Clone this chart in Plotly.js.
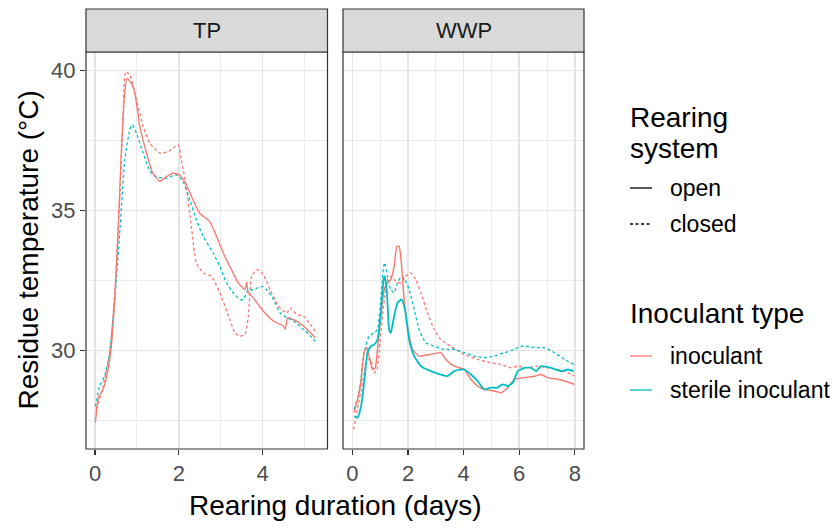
<!DOCTYPE html>
<html>
<head>
<meta charset="utf-8">
<script src="https://cdn.plot.ly/plotly-3.0.1.min.js"></script>
<style>html,body{margin:0;padding:0;background:#fff;}#chart{width:840px;height:529px;}</style>
</head>
<body>
<div id="chart"></div>
<script>
// ---------- Data ----------
const panels = ["TP", "WWP"];
const xTicksTP = [0, 2, 4];
const xTicksWWP = [0, 2, 4, 6, 8];
const yTicks = [30, 35, 40];
const systemLabels = ["open", "closed"];
const inoculantLabels = ["inoculant", "sterile inoculant"];

// TP panel
const tpInocOpenX = [0.01,0.08,0.19,0.31,0.39,0.47,0.55,0.63,0.71,0.76,0.87,0.95,1.07,1.23,1.38,1.55,1.7,1.86,2.02,2.18,2.34,2.5,2.74,2.9,3.06,3.22,3.42,3.58,3.62,3.66,3.78,4.02,4.26,4.5,4.54,4.6,4.74,4.98,5.26];
const tpInocOpenY = [27.42,28.31,28.6,29.3,30.15,31.8,34.2,37.17,39.2,39.72,39.54,39.2,38.0,37.05,36.33,36.04,36.2,36.33,36.27,35.92,35.38,34.9,34.6,34.08,33.48,33.0,32.41,32.17,32.44,32.06,31.88,31.4,31.05,30.87,30.75,31.17,31.1,30.87,30.45];

const tpInocClosedX = [0.03,0.19,0.35,0.47,0.59,0.67,0.73,0.83,0.99,1.15,1.31,1.55,1.75,1.91,1.99,2.06,2.18,2.3,2.42,2.58,2.78,2.98,3.22,3.34,3.46,3.58,3.66,3.74,3.86,4.02,4.18,4.38,4.58,4.66,4.82,4.98,5.14,5.26];
const tpInocClosedY = [27.9,28.7,29.9,32.05,35.4,38.35,39.96,39.84,38.95,38.0,37.4,37.05,37.1,37.28,37.34,36.8,35.86,34.43,33.13,32.77,32.65,32.06,31.1,30.63,30.51,30.57,31.22,32.65,32.89,32.71,32.17,31.58,31.34,31.52,31.28,31.22,30.93,30.69];

const tpSterClosedX = [0.01,0.11,0.23,0.35,0.47,0.59,0.71,0.83,0.89,0.99,1.15,1.31,1.47,1.7,1.94,2.1,2.26,2.42,2.58,2.82,2.98,3.14,3.3,3.46,3.54,3.66,3.78,3.98,4.1,4.26,4.42,4.58,4.74,4.98,5.26];
const tpSterClosedY = [28.0,28.73,29.08,29.92,31.8,34.2,36.8,37.88,38.06,37.76,37.05,36.4,36.2,36.15,36.27,36.04,35.38,34.67,34.08,33.48,33.0,32.41,32.06,31.82,31.82,32.17,32.17,32.29,32.17,31.82,31.34,31.17,31.05,30.75,30.33];

// WWP panel
const wwpInocOpenX = [0.06,0.18,0.3,0.42,0.52,0.6,0.72,0.82,0.9,1.02,1.14,1.26,1.38,1.5,1.6,1.68,1.77,1.86,1.98,2.16,2.4,2.82,3.18,3.36,3.66,4.02,4.26,4.5,4.74,5.1,5.34,5.59,5.83,6.19,6.55,6.79,7.03,7.39,7.63,7.99];
const wwpInocOpenY = [27.78,28.25,28.85,29.92,30.1,29.8,29.32,29.38,30.04,31.22,32.17,32.41,32.53,33.0,33.72,33.72,33.0,31.82,30.87,30.04,29.8,29.86,29.92,29.68,29.44,29.32,28.97,28.73,28.61,28.55,28.49,28.67,28.97,29.03,29.08,29.14,29.03,28.97,28.91,28.79];

const wwpSterOpenX = [0.06,0.18,0.3,0.42,0.54,0.66,0.78,0.9,1.02,1.12,1.16,1.24,1.32,1.38,1.5,1.62,1.77,1.89,2.04,2.22,2.46,2.82,3.18,3.42,3.66,4.02,4.26,4.5,4.74,4.98,5.22,5.4,5.59,5.77,5.95,6.19,6.43,6.61,6.79,7.15,7.51,7.75,7.96];
const wwpSterOpenY = [27.66,27.6,27.96,28.85,29.92,30.15,30.21,30.39,31.34,32.53,32.65,32.06,30.75,30.63,31.22,31.7,31.82,31.46,30.39,29.8,29.44,29.26,29.14,29.08,29.26,29.32,29.14,28.91,28.61,28.67,28.67,28.79,28.73,28.85,29.26,29.38,29.38,29.26,29.44,29.38,29.26,29.32,29.26];

const wwpInocClosedX = [0.04,0.18,0.36,0.54,0.66,0.78,0.88,1.0,1.12,1.26,1.38,1.56,1.74,1.92,2.1,2.28,2.46,2.7,2.94,3.18,3.54,4.02,4.5,4.98,5.34,5.71,5.95,6.31,6.67,7.03,7.39,7.75,7.99];
const wwpInocClosedY = [27.18,27.9,28.85,29.68,29.68,29.2,29.32,30.39,31.58,32.53,32.65,32.47,32.41,32.65,32.77,32.53,32.06,31.34,30.75,30.39,30.15,29.86,29.68,29.56,29.5,29.38,29.44,29.38,29.44,29.38,29.32,29.2,29.08];

const wwpSterClosedX = [0.06,0.24,0.42,0.6,0.78,0.9,1.02,1.12,1.16,1.26,1.38,1.5,1.62,1.77,1.89,2.04,2.22,2.4,2.64,2.94,3.3,3.66,4.02,4.38,4.74,5.1,5.47,5.83,6.07,6.25,6.55,6.91,7.27,7.63,7.96];
const wwpSterClosedY = [27.9,28.49,29.92,30.51,30.63,30.75,31.82,33.0,33.13,32.65,32.17,32.06,32.41,32.65,32.53,32.17,31.46,30.75,30.27,30.15,30.04,30.04,29.92,29.8,29.74,29.8,29.92,30.04,30.15,30.15,30.1,30.1,29.92,29.68,29.5];

// ---------- Styling ----------
const RED = "#F8766D", CYAN = "#00BFC4";
const DOT = "3px,2.5px";
const W = 840, H = 529;
const FONT = "Liberation Sans, Arial, sans-serif";
const px = v => v / W, py = v => 1 - v / H;

function tr(x, y, color, dash, xa, ya, width) {
  return {x: x, y: y, type: "scatter", mode: "lines", xaxis: xa, yaxis: ya,
    line: {color: color, dash: dash, width: width || 1.3, shape: "spline", smoothing: 0.5},
    showlegend: false, hoverinfo: "skip"};
}

const data = [
  tr(tpInocClosedX, tpInocClosedY, RED, DOT, "x", "y"),
  tr(tpSterClosedX, tpSterClosedY, CYAN, DOT, "x", "y"),
  tr(tpInocOpenX, tpInocOpenY, RED, "solid", "x", "y"),
  tr(wwpInocClosedX, wwpInocClosedY, RED, DOT, "x2", "y2"),
  tr(wwpSterClosedX, wwpSterClosedY, CYAN, DOT, "x2", "y2"),
  tr(wwpInocOpenX, wwpInocOpenY, RED, "solid", "x2", "y2", 1.4),
  tr(wwpSterOpenX, wwpSterOpenY, CYAN, "solid", "x2", "y2", 1.8)
];

const P1 = [86, 327.5], P2 = [343, 584], PT = 52, PB = 449, ST = 9;
const gridC = "#E4E4E4";
function xax(dom, range, ticks) {
  return {domain: [px(dom[0]), px(dom[1])], range: range, tickvals: ticks, ticktext: ticks.map(String),
    showgrid: true, gridcolor: gridC, gridwidth: 1.7, zeroline: false,
    minor: {dtick: 1, tick0: 0, showgrid: true, gridcolor: "#ECECEC", gridwidth: 1},
    showline: false,
    ticks: "outside", ticklen: 5, tickwidth: 1.2, tickcolor: "#333333",
    tickfont: {family: FONT, size: 22, color: "#4D4D4D"}, fixedrange: true};
}
function yax(show) {
  return {domain: [py(PB), py(PT)], range: [26.48, 40.66], tickvals: yTicks, ticktext: yTicks.map(String),
    showgrid: true, gridcolor: gridC, gridwidth: 1.7, zeroline: false,
    minor: {dtick: 2.5, tick0: 0, showgrid: true, gridcolor: "#ECECEC", gridwidth: 1},
    showline: false,
    ticks: show ? "outside" : "", ticklen: 5, tickwidth: 1.2, tickcolor: "#333333",
    showticklabels: show,
    tickfont: {family: FONT, size: 22, color: "#4D4D4D"}, fixedrange: true};
}

const shapes = [];
const annotations = [];
[[P1, panels[0]], [P2, panels[1]]].forEach(([p, label]) => {
  // panel border
  shapes.push({type: "rect", xref: "paper", yref: "paper", x0: px(p[0]), x1: px(p[1]), y0: py(PB), y1: py(PT),
    fillcolor: "rgba(0,0,0,0)", line: {color: "#333333", width: 1.2}, layer: "above"});
  // strip
  shapes.push({type: "rect", xref: "paper", yref: "paper", x0: px(p[0]), x1: px(p[1]), y0: py(PT), y1: py(ST),
    fillcolor: "#D9D9D9", line: {color: "#333333", width: 1.2}, layer: "above"});
  annotations.push({xref: "paper", yref: "paper", x: px((p[0] + p[1]) / 2), y: py((PT + ST) / 2),
    text: label, showarrow: false, xanchor: "center", yanchor: "middle",
    font: {family: FONT, size: 22, color: "#1A1A1A"}});
});

// axis titles
annotations.push({xref: "paper", yref: "paper", x: px((P1[0] + P2[1]) / 2), y: py(505), text: "Rearing duration (days)",
  showarrow: false, xanchor: "center", yanchor: "middle", font: {family: FONT, size: 28, color: "#000"}});
annotations.push({xref: "paper", yref: "paper", x: px(28), y: py((PT + PB) / 2), text: "Residue temperature (°C)",
  showarrow: false, textangle: -90, xanchor: "center", yanchor: "middle", font: {family: FONT, size: 28, color: "#000"}});

// legends
const LX = 628, KX0 = 630, KX1 = 652, TX = 668;
function legTitle(t, y) {
  annotations.push({xref: "paper", yref: "paper", x: px(LX), y: py(y), text: t, showarrow: false,
    xanchor: "left", yanchor: "middle", font: {family: FONT, size: 28, color: "#000"}});
}
function legItem(t, y, color, dash) {
  shapes.push({type: "line", xref: "paper", yref: "paper", x0: px(KX0), x1: px(KX1), y0: py(y), y1: py(y),
    line: {color: color, width: 1.3, dash: dash}});
  annotations.push({xref: "paper", yref: "paper", x: px(TX), y: py(y), text: t, showarrow: false,
    xanchor: "left", yanchor: "middle", font: {family: FONT, size: 23, color: "#000"}});
}
legTitle("Rearing", 117);
legTitle("system", 148);
legItem(systemLabels[0], 188, "#000", "solid");
legItem(systemLabels[1], 224, "#000", DOT);
legTitle("Inoculant type", 313);
legItem(inoculantLabels[0], 356, RED, "solid");
legItem(inoculantLabels[1], 390, CYAN, "solid");

const layout = {
  width: W, height: H, margin: {l: 0, r: 0, t: 0, b: 0},
  paper_bgcolor: "#fff", plot_bgcolor: "#fff", showlegend: false,
  xaxis: xax(P1, [-0.215, 5.55], xTicksTP),
  xaxis2: xax(P2, [-0.34, 8.33], xTicksWWP),
  yaxis: Object.assign(yax(true), {anchor: "x"}),
  yaxis2: Object.assign(yax(false), {anchor: "x2", matches: "y"}),
  shapes: shapes, annotations: annotations
};
layout.xaxis.anchor = "y";
layout.xaxis2.anchor = "y2";

Plotly.newPlot("chart", data, layout, {staticPlot: true, displayModeBar: false});
</script>
</body>
</html>
